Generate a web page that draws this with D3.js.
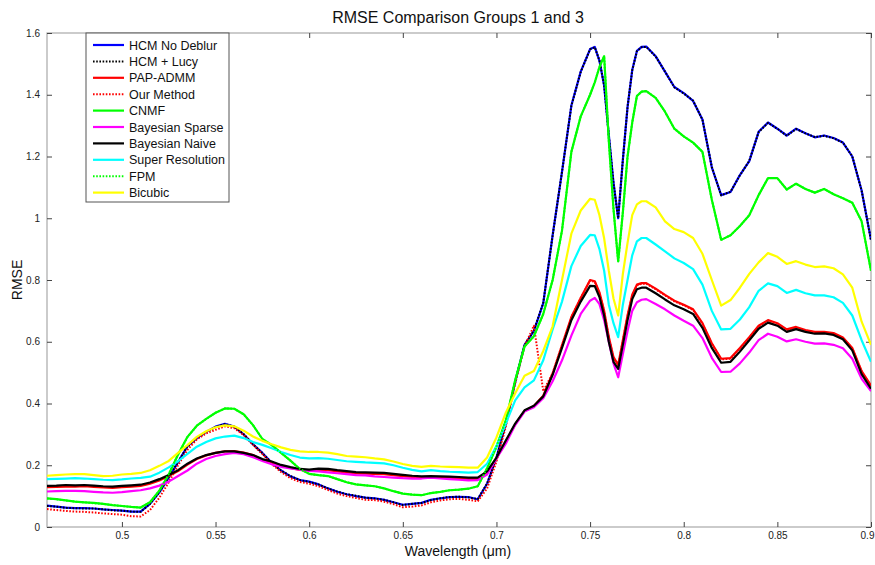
<!DOCTYPE html>
<html>
<head>
<meta charset="utf-8">
<script src="https://cdn.jsdelivr.net/npm/d3@7"></script>
<style>
  html, body { margin: 0; padding: 0; background: #fff; }
  svg { display: block; font-family: "Liberation Sans", Arial, sans-serif; }
</style>
</head>
<body>
<svg id="chart" width="875" height="565"></svg>
<script>
// Wavelength samples (µm) shared by every curve
const wavelengths = [
  0.46,0.465,0.47,0.475,0.48,0.485,0.49,0.495,0.5,0.505,
  0.51,0.515,0.52,0.525,0.53,0.535,0.54,0.545,0.55,0.555,
  0.56,0.565,0.57,0.575,0.58,0.585,0.59,0.595,0.6,0.605,
  0.61,0.615,0.62,0.625,0.63,0.635,0.64,0.645,0.65,0.655,
  0.66,0.665,0.67,0.675,0.68,0.685,0.69,0.695,0.7,0.705,
  0.71,0.715,0.72,0.725,0.73,0.735,0.74,0.745,
  0.75,0.7525,0.755,0.7575,0.76,0.7625,0.765,0.7675,0.77,0.7725,0.775,0.7775,0.78,
  0.785,0.79,0.795,0.8,0.805,0.81,0.815,0.82,0.825,0.83,
  0.835,0.84,0.845,0.85,0.855,0.86,0.865,0.87,0.875,0.88,0.885,0.89,0.895,0.9
];

const hcmNoDeblur = [
  0.069,0.066,0.063,0.061,0.061,0.060,0.057,0.055,0.053,0.050,
  0.050,0.075,0.112,0.160,0.210,0.262,0.288,0.308,0.325,0.334,
  0.325,0.300,0.268,0.240,0.208,0.183,0.164,0.152,0.147,0.138,
  0.125,0.114,0.106,0.100,0.095,0.093,0.088,0.080,0.072,0.075,
  0.078,0.088,0.093,0.097,0.098,0.097,0.090,0.140,0.225,0.335,
  0.470,0.590,0.635,0.725,0.945,1.150,1.365,1.475,
  1.548,1.555,1.510,1.430,1.270,1.115,1.000,1.190,1.360,1.480,1.542,1.555,1.556,
  1.525,1.475,1.425,1.405,1.380,1.320,1.165,1.075,1.085,1.140,
  1.185,1.280,1.310,1.290,1.268,1.290,1.275,1.262,1.268,1.260,1.245,1.200,1.090,0.930
];

const hcmLucy = [
  0.068,0.066,0.062,0.061,0.060,0.060,0.057,0.054,0.053,0.050,
  0.049,0.075,0.113,0.161,0.211,0.261,0.287,0.308,0.324,0.333,
  0.325,0.301,0.268,0.239,0.208,0.183,0.165,0.152,0.146,0.138,
  0.125,0.115,0.106,0.101,0.095,0.092,0.088,0.080,0.071,0.075,
  0.078,0.087,0.093,0.097,0.098,0.096,0.090,0.141,0.224,0.334,
  0.471,0.589,0.636,0.726,0.944,1.150,1.364,1.474,
  1.547,1.554,1.511,1.431,1.268,1.114,1.000,1.189,1.361,1.479,1.541,1.554,1.555,
  1.524,1.475,1.424,1.404,1.381,1.319,1.166,1.074,1.086,1.139,
  1.186,1.279,1.309,1.290,1.267,1.289,1.275,1.263,1.267,1.259,1.245,1.201,1.089,0.929
];

const papAdmm = [
  0.129,0.130,0.131,0.131,0.132,0.130,0.128,0.127,0.129,0.131,
  0.133,0.140,0.151,0.165,0.181,0.202,0.220,0.232,0.240,0.245,
  0.246,0.241,0.233,0.218,0.210,0.199,0.191,0.185,0.183,0.185,
  0.184,0.180,0.177,0.174,0.173,0.172,0.171,0.168,0.165,0.162,
  0.160,0.161,0.160,0.159,0.158,0.156,0.156,0.176,0.222,0.278,
  0.332,0.376,0.392,0.425,0.497,0.588,0.680,0.742,
  0.800,0.796,0.760,0.700,0.615,0.550,0.525,0.605,0.685,0.752,0.785,0.790,0.790,
  0.772,0.752,0.733,0.720,0.705,0.660,0.595,0.545,0.547,0.580,
  0.615,0.652,0.670,0.660,0.640,0.648,0.638,0.632,0.632,0.628,0.614,0.580,0.505,0.458
];

const ourMethod = [
  0.058,0.055,0.052,0.050,0.049,0.047,0.044,0.042,0.040,0.035,
  0.034,0.055,0.095,0.145,0.200,0.250,0.284,0.303,0.315,0.326,
  0.320,0.298,0.266,0.236,0.204,0.178,0.158,0.146,0.140,0.132,
  0.120,0.108,0.100,0.094,0.088,0.087,0.082,0.074,0.064,0.066,
  0.070,0.080,0.086,0.090,0.091,0.088,0.083,0.125,0.212,0.325,
  0.465,0.585,0.652,0.440,0.498,0.590,0.680,0.742,
  0.798,0.794,0.758,0.698,0.613,0.548,0.523,0.603,0.683,0.750,0.783,0.788,0.788,
  0.770,0.750,0.731,0.718,0.703,0.658,0.593,0.543,0.545,0.578,
  0.613,0.650,0.668,0.658,0.638,0.646,0.636,0.630,0.630,0.626,0.612,0.578,0.503,0.456
];

const cnmf = [
  0.093,0.090,0.086,0.082,0.080,0.078,0.075,0.071,0.068,0.065,
  0.063,0.080,0.118,0.170,0.235,0.292,0.328,0.350,0.370,0.384,
  0.383,0.365,0.330,0.285,0.265,0.240,0.215,0.188,0.172,0.168,
  0.165,0.155,0.145,0.138,0.135,0.132,0.125,0.116,0.108,0.105,
  0.103,0.110,0.114,0.119,0.121,0.124,0.132,0.190,0.260,0.345,
  0.475,0.585,0.618,0.690,0.800,0.960,1.215,1.330,
  1.400,1.440,1.490,1.525,1.250,1.030,0.860,1.020,1.200,1.310,1.396,1.410,1.412,
  1.390,1.345,1.290,1.265,1.245,1.215,1.060,0.930,0.945,0.975,
  1.010,1.075,1.130,1.130,1.093,1.112,1.095,1.083,1.095,1.078,1.065,1.050,0.990,0.830
];

const bayesianSparse = [
  0.115,0.116,0.117,0.117,0.116,0.114,0.112,0.111,0.113,0.116,
  0.119,0.125,0.134,0.147,0.165,0.183,0.205,0.220,0.230,0.236,
  0.240,0.236,0.226,0.214,0.203,0.195,0.190,0.186,0.182,0.180,
  0.177,0.174,0.171,0.168,0.167,0.164,0.162,0.160,0.158,0.157,
  0.157,0.160,0.157,0.155,0.153,0.151,0.152,0.170,0.222,0.270,
  0.330,0.374,0.388,0.417,0.472,0.540,0.620,0.690,
  0.733,0.742,0.722,0.670,0.600,0.530,0.485,0.560,0.635,0.700,0.728,0.736,0.738,
  0.722,0.705,0.685,0.668,0.652,0.612,0.548,0.502,0.503,0.530,
  0.565,0.605,0.626,0.616,0.601,0.608,0.600,0.594,0.595,0.590,0.579,0.545,0.480,0.440
];

const bayesianNaive = [
  0.133,0.134,0.136,0.135,0.136,0.134,0.132,0.131,0.133,0.135,
  0.137,0.144,0.155,0.168,0.184,0.205,0.222,0.233,0.240,0.245,
  0.245,0.240,0.233,0.220,0.212,0.201,0.194,0.188,0.186,0.189,
  0.188,0.184,0.181,0.178,0.177,0.176,0.175,0.172,0.169,0.166,
  0.164,0.165,0.164,0.163,0.162,0.160,0.160,0.180,0.225,0.280,
  0.335,0.378,0.393,0.423,0.493,0.580,0.670,0.730,
  0.781,0.780,0.745,0.685,0.600,0.535,0.512,0.590,0.670,0.738,0.770,0.775,0.775,
  0.757,0.737,0.718,0.705,0.690,0.645,0.580,0.532,0.535,0.568,
  0.605,0.642,0.662,0.652,0.632,0.641,0.632,0.626,0.627,0.622,0.608,0.572,0.495,0.448
];

const superResolution = [
  0.155,0.156,0.157,0.158,0.157,0.155,0.153,0.152,0.154,0.157,
  0.159,0.163,0.176,0.193,0.213,0.237,0.260,0.275,0.287,0.293,
  0.296,0.288,0.275,0.266,0.255,0.243,0.233,0.225,0.222,0.223,
  0.221,0.217,0.213,0.211,0.209,0.208,0.206,0.200,0.192,0.185,
  0.180,0.184,0.181,0.179,0.178,0.176,0.178,0.205,0.262,0.335,
  0.410,0.452,0.475,0.540,0.640,0.730,0.845,0.910,
  0.946,0.945,0.900,0.830,0.720,0.660,0.615,0.720,0.800,0.880,0.925,0.936,0.936,
  0.915,0.893,0.870,0.855,0.835,0.785,0.700,0.640,0.642,0.672,
  0.712,0.765,0.789,0.780,0.758,0.768,0.757,0.750,0.750,0.744,0.726,0.685,0.605,0.535
];

const fpm = [
  0.092,0.090,0.086,0.082,0.080,0.077,0.075,0.071,0.068,0.065,
  0.063,0.080,0.118,0.171,0.235,0.291,0.328,0.350,0.370,0.384,
  0.383,0.365,0.330,0.285,0.265,0.240,0.215,0.188,0.172,0.168,
  0.165,0.155,0.145,0.138,0.135,0.132,0.125,0.116,0.108,0.105,
  0.103,0.110,0.114,0.119,0.121,0.124,0.132,0.190,0.260,0.345,
  0.475,0.585,0.618,0.690,0.800,0.960,1.215,1.330,
  1.400,1.440,1.490,1.525,1.250,1.030,0.860,1.020,1.200,1.310,1.396,1.410,1.412,
  1.390,1.345,1.290,1.265,1.245,1.215,1.060,0.930,0.945,0.975,
  1.010,1.075,1.130,1.130,1.093,1.112,1.095,1.083,1.095,1.078,1.065,1.050,0.990,0.830
];

const bicubic = [
  0.166,0.168,0.170,0.171,0.171,0.168,0.165,0.166,0.170,0.172,
  0.175,0.184,0.198,0.214,0.240,0.265,0.292,0.310,0.323,0.329,
  0.326,0.312,0.293,0.279,0.268,0.258,0.250,0.245,0.243,0.243,
  0.241,0.236,0.230,0.228,0.226,0.222,0.219,0.212,0.204,0.198,
  0.195,0.198,0.196,0.195,0.194,0.192,0.192,0.225,0.290,0.370,
  0.433,0.490,0.505,0.570,0.650,0.800,0.950,1.025,
  1.063,1.060,1.010,0.935,0.830,0.740,0.685,0.820,0.920,1.010,1.045,1.055,1.055,
  1.035,0.990,0.965,0.955,0.936,0.885,0.800,0.717,0.735,0.775,
  0.820,0.857,0.887,0.875,0.852,0.861,0.850,0.842,0.844,0.838,0.818,0.775,0.665,0.590
];

const seriesNames = ["HCM No Deblur","HCM + Lucy","PAP-ADMM","Our Method","CNMF",
  "Bayesian Sparse","Bayesian Naive","Super Resolution","FPM","Bicubic"];
const seriesValues = [hcmNoDeblur, hcmLucy, papAdmm, ourMethod, cnmf,
  bayesianSparse, bayesianNaive, superResolution, fpm, bicubic];
const seriesColors = ["#0000ff","#000000","#ff0000","#ff0000","#00ff00",
  "#ff00ff","#000000","#00ffff","#00ff00","#ffff00"];
const seriesDotted = [false,true,false,true,false,false,false,false,true,false];

const xTicks = [0.5,0.55,0.6,0.65,0.7,0.75,0.8,0.85,0.9];
const yTicks = [0,0.2,0.4,0.6,0.8,1,1.2,1.4,1.6];

const titleText = "RMSE Comparison Groups 1 and 3";
const xLabelText = "Wavelength (\u03bcm)";
const yLabelText = "RMSE";

// ---- layout ----
const svg = d3.select("#chart");
const plot = { left: 47, top: 33, right: 871, bottom: 527 };

const x = d3.scaleLinear().domain([0.46, 0.9]).range([plot.left, plot.right]);
const y = d3.scaleLinear().domain([0, 1.6]).range([plot.bottom, plot.top]);

svg.append("defs").append("clipPath").attr("id", "plotClip")
  .append("rect")
  .attr("x", plot.left).attr("y", plot.top)
  .attr("width", plot.right - plot.left).attr("height", plot.bottom - plot.top);

// plot box
svg.append("rect")
  .attr("x", plot.left).attr("y", plot.top)
  .attr("width", plot.right - plot.left).attr("height", plot.bottom - plot.top)
  .attr("fill", "#fff").attr("stroke", "#a9a9a9").attr("stroke-width", 1.2);

const fmt = d => String(d);

function styleAxis(g, showLabels) {
  g.select(".domain").remove();
  g.selectAll(".tick line").attr("stroke", "#444").attr("stroke-width", 1);
  g.selectAll(".tick text")
    .attr("fill", "#222")
    .style("font-size", "10px")
    .style("font-family", "'Liberation Sans', Arial, sans-serif")
    .style("display", showLabels ? null : "none");
}

svg.append("g").attr("transform", `translate(0,${plot.bottom})`)
  .call(d3.axisBottom(x).tickValues(xTicks).tickFormat(fmt).tickSize(-5).tickPadding(5))
  .call(g => styleAxis(g, true))
  // keep the last label inside the page edge
  .call(g => g.selectAll(".tick text").filter(d => d === 0.9).attr("x", -4));
svg.append("g").attr("transform", `translate(0,${plot.top})`)
  .call(d3.axisTop(x).tickValues(xTicks).tickSize(-5))
  .call(g => styleAxis(g, false));
svg.append("g").attr("transform", `translate(${plot.left},0)`)
  .call(d3.axisLeft(y).tickValues(yTicks).tickFormat(fmt).tickSize(-5).tickPadding(7))
  .call(g => styleAxis(g, true));
svg.append("g").attr("transform", `translate(${plot.right},0)`)
  .call(d3.axisRight(y).tickValues(yTicks).tickSize(-5))
  .call(g => styleAxis(g, false));

// curves
const line = d3.line()
  .x((d, i) => x(wavelengths[i]))
  .y(d => y(d));

const curves = svg.append("g").attr("clip-path", "url(#plotClip)");
seriesValues.forEach((vals, k) => {
  curves.append("path")
    .datum(vals)
    .attr("d", line)
    .attr("fill", "none")
    .attr("stroke", seriesColors[k])
    .attr("stroke-width", seriesDotted[k] ? 2 : 2.2)
    .attr("stroke-linejoin", "round")
    .attr("stroke-dasharray", seriesDotted[k] ? "1.6,1.6" : null);
});

// legend
const lg = svg.append("g");
lg.append("rect")
  .attr("x", 86).attr("y", 33).attr("width", 143).attr("height", 169)
  .attr("fill", "#fff").attr("stroke", "#555").attr("stroke-width", 1);
seriesNames.forEach((name, k) => {
  const yy = 45 + k * 16.4;
  lg.append("line")
    .attr("x1", 93).attr("x2", 124).attr("y1", yy).attr("y2", yy)
    .attr("stroke", seriesColors[k])
    .attr("stroke-width", seriesDotted[k] ? 2 : 2.2)
    .attr("stroke-dasharray", seriesDotted[k] ? "1.6,1.6" : null);
  lg.append("text")
    .attr("x", 129).attr("y", yy).attr("dy", "0.36em")
    .style("font-size", "12.5px").attr("fill", "#111")
    .text(name);
});

// titles
svg.append("text")
  .attr("x", 458).attr("y", 23).attr("text-anchor", "middle")
  .style("font-size", "16px").attr("fill", "#111")
  .text(titleText);
svg.append("text")
  .attr("x", 458).attr("y", 556).attr("text-anchor", "middle")
  .style("font-size", "14px").attr("fill", "#111")
  .text(xLabelText);
svg.append("text")
  .attr("transform", "translate(22,280) rotate(-90)")
  .attr("text-anchor", "middle")
  .style("font-size", "14px").attr("fill", "#111")
  .text(yLabelText);
</script>
</body>
</html>
